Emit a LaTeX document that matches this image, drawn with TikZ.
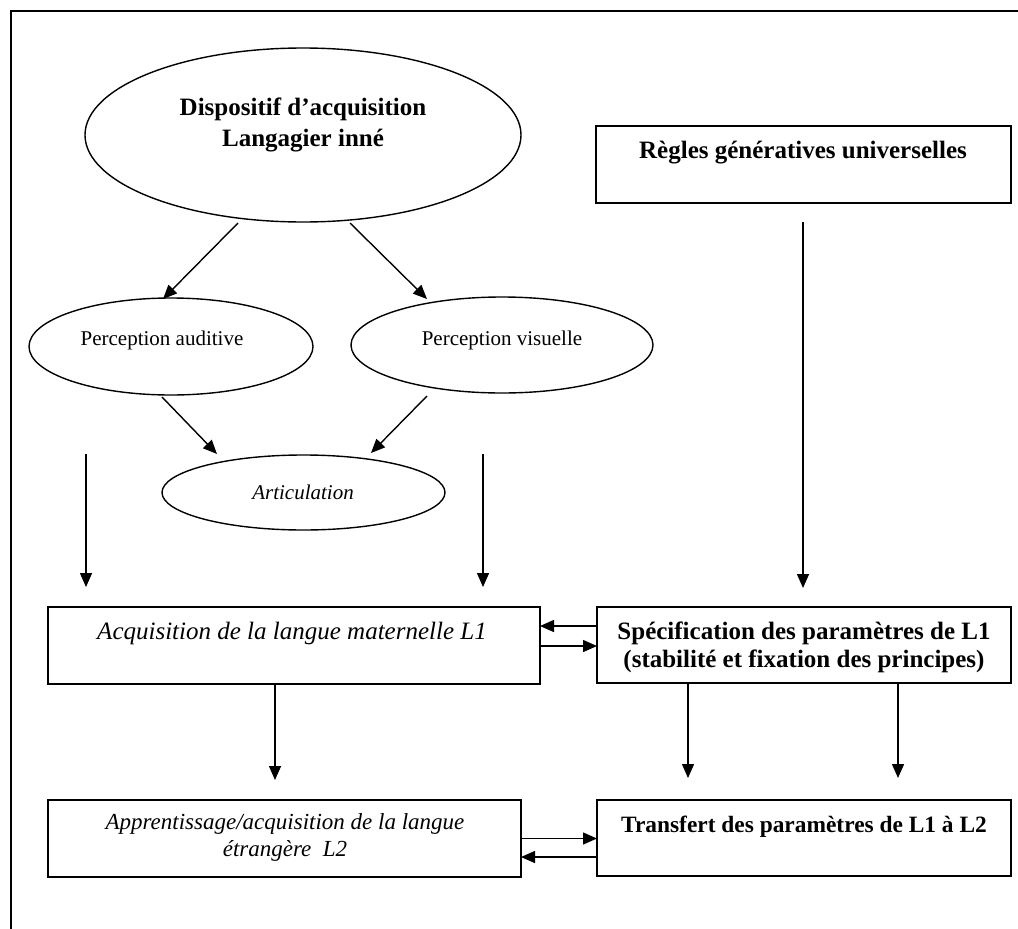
\documentclass[tikz,border=0pt]{standalone}
\usepackage{fontspec}
\setmainfont{Liberation Serif}
\usetikzlibrary{shapes.geometric,arrows.meta,calc}
\begin{document}
\begin{tikzpicture}[x=1pt,y=-1pt,
  every node/.style={inner sep=0pt,outer sep=0pt},
  ell/.style={draw,ellipse,line width=1.4pt},
  box/.style={draw,rectangle,line width=1.4pt},
  arr/.style={line width=1.4pt,-{Triangle[length=14pt,width=12pt]}},
  bigtxt/.style={font=\fontsize{25}{31}\selectfont\bfseries,align=center},
  boldtxt/.style={font=\fontsize{25}{28}\selectfont\bfseries,align=center},
  boldsm/.style={font=\fontsize{23.4}{27}\selectfont\bfseries,align=center},
  ittxt/.style={font=\fontsize{25}{27}\selectfont\itshape,align=center},
  itsm/.style={font=\fontsize{23}{27}\selectfont\itshape,align=center},
  smalltxt/.style={font=\fontsize{21}{24}\selectfont},
  smallit/.style={font=\fontsize{21}{24}\selectfont\itshape}]
\useasboundingbox (0,0) rectangle (1018,929);
\draw[line width=1.6pt] (11,929) -- (11,11) -- (1018,11);

% shapes
\node[ell,minimum width=436pt,minimum height=174pt] (disp) at (303,135) {};
\node[box,minimum width=415pt,minimum height=77pt] (regles) at (803.5,164.5) {};
\node[ell,minimum width=284pt,minimum height=97pt] (aud) at (171,346.5) {};
\node[ell,minimum width=302pt,minimum height=96pt] (vis) at (502,345) {};
\node[ell,minimum width=283pt,minimum height=75pt] (art) at (303.5,492.5) {};
\node[box,minimum width=492pt,minimum height=77pt] (L1) at (294,645.5) {};
\node[box,minimum width=414pt,minimum height=76pt] (spec) at (804,645) {};
\node[box,minimum width=473pt,minimum height=77pt] (app) at (284.5,838.5) {};
\node[box,minimum width=414pt,minimum height=76pt] (trans) at (804,838) {};

% texts
\node[bigtxt] (tdisp) at (303,125) {Dispositif d’acquisition\\Langagier inné};
\node[boldtxt] (tregles) at (803,153) {Règles génératives universelles};
\node[smalltxt] (taud) at (162,340) {Perception auditive};
\node[smalltxt] (tvis) at (502,340) {Perception visuelle};
\node[smallit] (tart) at (303,492) {Articulation};
\node[ittxt] (tL1) at (292,633) {Acquisition de la langue maternelle L1};
\node[boldtxt] (tspec) at (804,647) {Spécification des paramètres de L1\\(stabilité et fixation des principes)};
\node[itsm] (tapp) at (285,837) {Apprentissage/acquisition de la langue\\étrangère~ L2};
\node[boldsm] (ttrans) at (804,827) {Transfert des paramètres de L1 à L2};

% connector end points
\coordinate (a1s) at (238,223); \coordinate (a1e) at (163,299);
\coordinate (a2s) at (350,223); \coordinate (a2e) at (427,299);
\coordinate (a3s) at (162,397); \coordinate (a3e) at (217,454);
\coordinate (a4s) at (427,396); \coordinate (a4e) at (371,453);
\coordinate (a5s) at (86,454);  \coordinate (a5e) at (86,587);
\coordinate (a6s) at (483,454); \coordinate (a6e) at (483,587);
\coordinate (a7s) at (803,222); \coordinate (a7e) at (803,588);

\draw[arr] (a1s) -- (a1e);
\draw[arr] (a2s) -- (a2e);
\draw[arr] (a3s) -- (a3e);
\draw[arr] (a4s) -- (a4e);
\draw[arr] (a5s) -- (a5e);
\draw[arr] (a6s) -- (a6e);
\draw[arr] (a7s) -- (a7e);

\draw[arr] ($(spec.west)+(0,-19)$) -- ($(L1.east)+(0,-19.5)$);
\draw[arr] ($(L1.east)+(0,0.5)$) -- ($(spec.west)+(0,1)$);

\draw[arr] ($(L1.south)+(-19,0)$) -- ($(L1.south)+(-19,96)$);
\draw[arr] ($(spec.south)+(-116,0)$) -- ($(spec.south)+(-116,95)$);
\draw[arr] ($(spec.south)+(94,0)$) -- ($(spec.south)+(94,95)$);

\draw[arr] (app.east) -- (app.east -| trans.west);
\draw[arr] ($(trans.west)+(0,19)$) -- ($(app.east)+(0,18.5)$);
\end{tikzpicture}
\end{document}
